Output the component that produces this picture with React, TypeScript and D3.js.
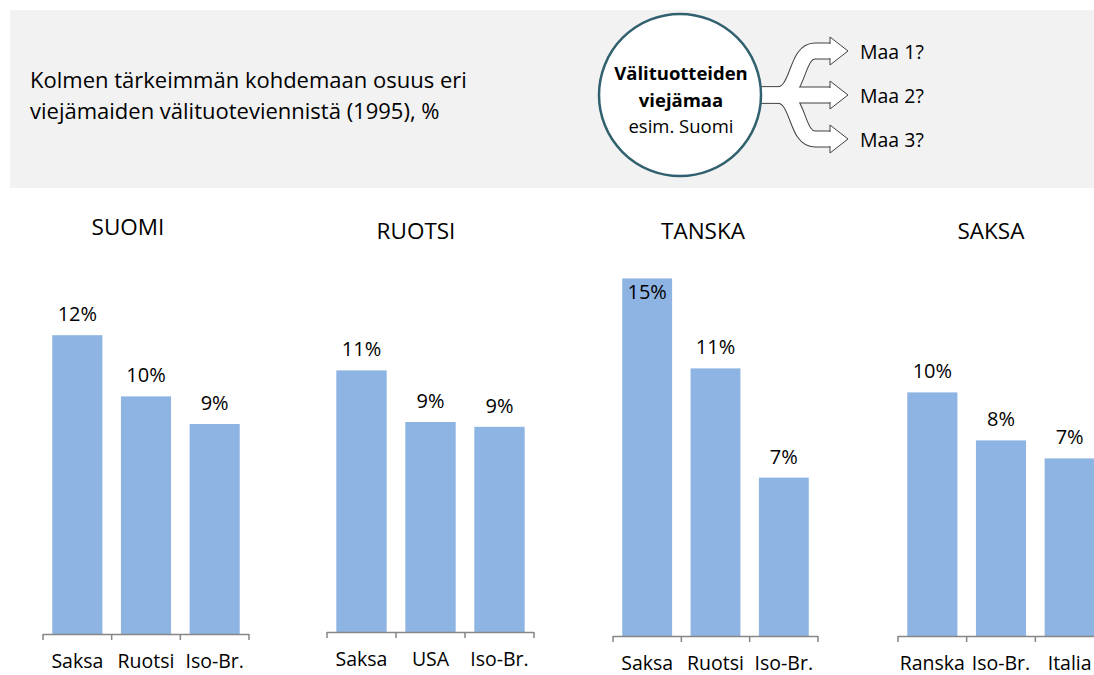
import * as React from 'react';
import * as d3 from 'd3';

const WIDTH = 1094;
const HEIGHT = 675;
const FONT = "'Open Sans', 'Noto Sans', sans-serif";

// data
const countries = ['SUOMI', 'RUOTSI', 'TANSKA', 'SAKSA'];
const suomiCats = ['Saksa', 'Ruotsi', 'Iso-Br.'];
const suomiVals = [12.45, 9.9, 8.75];
const ruotsiCats = ['Saksa', 'USA', 'Iso-Br.'];
const ruotsiVals = [10.9, 8.75, 8.55];
const tanskaCats = ['Saksa', 'Ruotsi', 'Iso-Br.'];
const tanskaVals = [14.9, 11.15, 6.6];
const saksaCats = ['Ranska', 'Iso-Br.', 'Italia'];
const saksaVals = [10.15, 8.15, 7.4];

const headerLines = ['Kolmen tärkeimmän kohdemaan osuus eri', 'viejämaiden välituoteviennistä (1995), %'];
const circleLines = ['Välituotteiden', 'viejämaa', 'esim. Suomi'];
const targetLabels = ['Maa 1?', 'Maa 2?', 'Maa 3?'];

const panelCats = [suomiCats, ruotsiCats, tanskaCats, saksaCats];
const panelVals = [suomiVals, ruotsiVals, tanskaVals, saksaVals];

// layout of the four small charts
const axisX = [[43, 249], [327, 534], [613, 818], [898, 1104]];
const axisY = [634, 632, 636, 636];
const titleX = [128, 416, 703, 991];
const titleY = [235, 239, 239, 239];

const BAR = '#8eb4e3';
const AXIS = '#868686';

const y = d3.scaleLinear().domain([0, 15]).range([0, 360]);

function Panel({ i }: { i: number }) {
  const cats = panelCats[i];
  const vals = panelVals[i];
  const base = axisY[i];
  const x = d3
    .scaleBand()
    .domain(cats)
    .range(axisX[i])
    .paddingInner(0.27)
    .paddingOuter(0.135);
  const ticks = d3.range(cats.length + 1).map(k => axisX[i][0] + k * x.step());

  return (
    <g>
      <text x={titleX[i]} y={titleY[i]} textAnchor="middle" fontSize={22.5} fill="#000">
        {countries[i]}
      </text>
      {cats.map((c, k) => {
        const top = base - y(vals[k]);
        const inside = top - 14 < 280;
        return (
          <g key={c}>
            <rect x={x(c)} y={top} width={x.bandwidth()} height={y(vals[k])} fill={BAR} />
            <text
              x={x(c)! + x.bandwidth() / 2}
              y={inside ? top + 21 : top - 14}
              textAnchor="middle"
              fontSize={20}
              fill="#000"
            >
              {Math.round(vals[k]) + '%'}
            </text>
            <text x={x(c)! + x.bandwidth() / 2} y={base + 34} textAnchor="middle" fontSize={19.5} fill="#000">
              {c}
            </text>
          </g>
        );
      })}
      <line x1={axisX[i][0]} x2={axisX[i][1]} y1={base + 0.5} y2={base + 0.5} stroke={AXIS} strokeWidth={1.5} />
      {ticks.map((t, k) => (
        <line key={k} x1={t} x2={t} y1={base} y2={base + 6} stroke={AXIS} strokeWidth={1.5} />
      ))}
    </g>
  );
}

function Arrows() {
  const branchY = [51, 95, 139];
  const stemY = 95;
  const paths = branchY.map(
    c => `M745,${stemY} L777,${stemY} C800,${stemY} 795,${c} 815,${c} L831,${c}`,
  );
  const dark = '#404040';
  return (
    <g>
      {paths.map((d, k) => (
        <path key={'o' + k} d={d} fill="none" stroke={dark} strokeWidth={17} />
      ))}
      {paths.map((d, k) => (
        <path key={'w' + k} d={d} fill="none" stroke="#fff" strokeWidth={15} />
      ))}
      {branchY.map((c, k) => (
        <g key={'h' + k}>
          <path d={`M830,${c - 14} L848,${c} L830,${c + 14} Z`} fill="#fff" stroke={dark} strokeWidth={1} strokeLinejoin="miter" />
          <line x1={830} x2={830} y1={c - 7} y2={c + 7} stroke="#fff" strokeWidth={2.5} />
        </g>
      ))}
      {targetLabels.map((t, k) => (
        <text key={t} x={860} y={branchY[k] + 7.5} fontSize={19.5} fill="#000">
          {t}
        </text>
      ))}
    </g>
  );
}

export default function App() {
  return (
    <div style={{ position: 'absolute', left: 0, top: 0 }}>
      <svg width={WIDTH} height={HEIGHT} style={{ display: 'block', fontFamily: FONT }}>
        <rect x={0} y={0} width={WIDTH} height={HEIGHT} fill="#fff" />
        <rect x={10} y={10} width={WIDTH - 10} height={178} fill="#f2f2f2" />
        {headerLines.map((t, k) => (
          <text key={k} x={30} y={88 + k * 31} fontSize={22} fill="#000">
            {t}
          </text>
        ))}
        <Arrows />
        <circle cx={680} cy={95} r={81} fill="#fff" stroke="#31606e" strokeWidth={2.5} />
        {circleLines.map((t, k) => (
          <text
            key={k}
            x={681}
            y={80 + k * 26.5}
            textAnchor="middle"
            fontSize={18.5}
            fontWeight={k < 2 ? 'bold' : 'normal'}
            fill="#000"
          >
            {t}
          </text>
        ))}
        {countries.map((c, i) => (
          <Panel key={c} i={i} />
        ))}
      </svg>
    </div>
  );
}
